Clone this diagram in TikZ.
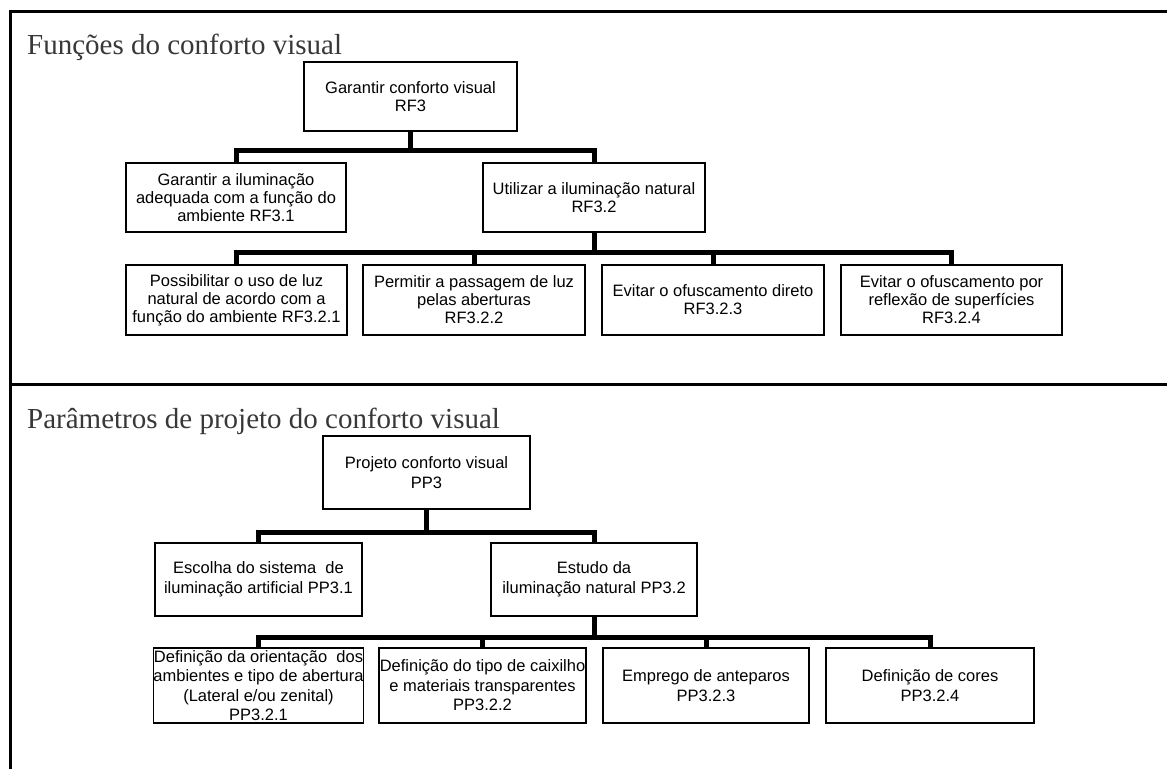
\documentclass[tikz,border=0pt]{standalone}
\usepackage{fontspec}
\setmainfont{Liberation Serif}
\newfontfamily\boxfont{Liberation Sans}
\begin{document}
\begin{tikzpicture}[x=1pt,y=-1pt,
  box/.style={draw, line width=1.8pt, inner sep=0pt, align=center,
    font=\boxfont\fontsize{16.5}{18}\selectfont},
  boxb/.style={box, font=\boxfont\fontsize{16.5}{19.5}\selectfont},
  conn/.style={line width=5pt, line join=miter},
  frameline/.style={line width=3pt},
  ttl/.style={anchor=base west, inner sep=0pt, text=black!78,
    font=\fontsize{29}{32}\selectfont}]
\useasboundingbox (0,0) rectangle (1167,769);
\fill[white] (0,0) rectangle (1167,769);
% frame
\draw[frameline] (1167,11) -- (10,11) -- (10,769);
\draw[frameline] (10,384) -- (1167,384);
% titles
\node[ttl] (t1) at (27,54) {Funções do conforto visual};
\node[ttl] (t2) at (27,428) {Parâmetros de projeto do conforto visual};
% ---------- top tree
\node[box, minimum width=213pt, minimum height=69pt] (rf3) at (410.5,96.5) {Garantir conforto visual\\RF3};
\node[box, minimum width=220pt, minimum height=69pt] (rf31) at (236,197.5) {Garantir a iluminação\\adequada com a função do\\ambiente RF3.1};
\node[box, minimum width=222pt, minimum height=69pt] (rf32) at (594,197.5) {Utilizar a iluminação natural\\RF3.2};
\node[box, minimum width=221pt, minimum height=70pt] (rf321) at (236.5,300) {Possibilitar o uso de luz\\natural de acordo com a\\função do ambiente RF3.2.1};
\node[box, minimum width=222pt, minimum height=70pt] (rf322) at (474,300) {Permitir a passagem de luz\\pelas aberturas\\RF3.2.2};
\node[box, minimum width=222pt, minimum height=70pt] (rf323) at (713,300) {Evitar o ofuscamento direto\\RF3.2.3};
\node[box, minimum width=221pt, minimum height=70pt] (rf324) at (951.5,300) {Evitar o ofuscamento por\\reflexão de superfícies\\RF3.2.4};
\draw[conn] (rf3.south) -- ++(0,19) -| (rf31.north);
\draw[conn] (rf3.south) -- ++(0,19) -| (rf32.north);
\foreach \c in {rf321,rf322,rf323,rf324}
  \draw[conn] (rf32.south) -- ++(0,20) -| (\c.north);
% ---------- bottom tree
\node[boxb, minimum width=207pt, minimum height=73pt] (pp3) at (426.5,472.5) {Projeto conforto visual\\PP3};
\node[boxb, minimum width=207pt, minimum height=73pt] (pp31) at (258.5,579.5) {Escolha do sistema\ \ de\\iluminação artificial PP3.1};
\node[boxb, minimum width=206pt, minimum height=73pt] (pp32) at (594,579.5) {Estudo da\\iluminação natural PP3.2};
\node[boxb, minimum width=207pt, minimum height=75pt] (pp321) at (258.5,685.5) {Definição da orientação\ \ dos\\ambientes e tipo de abertura\\(Lateral e/ou zenital)\\PP3.2.1};
\node[boxb, minimum width=207pt, minimum height=75pt] (pp322) at (482.5,685.5) {Definição do tipo de caixilho\\e materiais transparentes\\PP3.2.2};
\node[boxb, minimum width=206pt, minimum height=75pt] (pp323) at (706,685.5) {Emprego de anteparos\\PP3.2.3};
\node[boxb, minimum width=208pt, minimum height=75pt] (pp324) at (930,685.5) {Definição de cores\\PP3.2.4};
\draw[conn] (pp3.south) -- ++(0,23) -| (pp31.north);
\draw[conn] (pp3.south) -- ++(0,23) -| (pp32.north);
\foreach \c in {pp321,pp322,pp323,pp324}
  \draw[conn] (pp32.south) -- ++(0,21) -| (\c.north);
\end{tikzpicture}
\end{document}
